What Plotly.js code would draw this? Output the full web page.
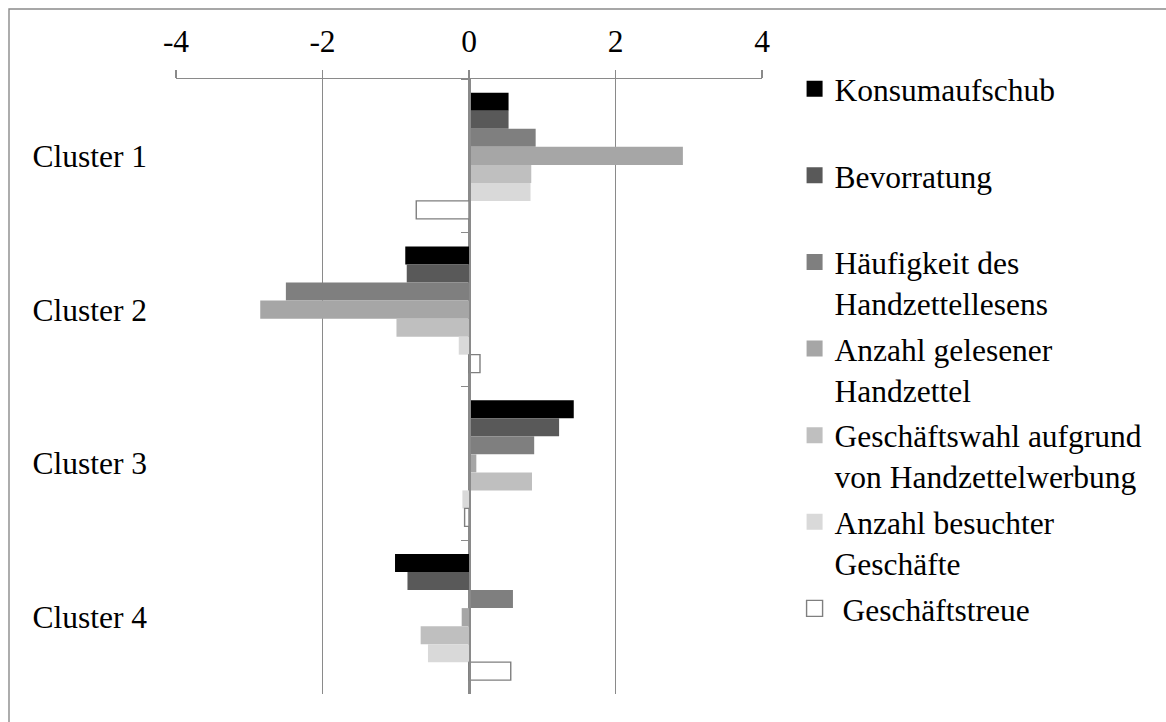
<!DOCTYPE html>
<html>
<head>
<meta charset="utf-8">
<script src="https://cdn.plot.ly/plotly-3.0.1.min.js"></script>
<style>
  html, body { margin: 0; padding: 0; background: #ffffff; }
  #chart { width: 1166px; height: 722px; }
</style>
</head>
<body>
<div id="chart"></div>
<script>
// ---- data ----
var clusters = ['Cluster 1', 'Cluster 2', 'Cluster 3', 'Cluster 4'];
var seriesNames = [
  'Konsumaufschub',
  'Bevorratung',
  'Häufigkeit des<br>Handzettellesens',
  'Anzahl gelesener<br>Handzettel',
  'Geschäftswahl aufgrund<br>von Handzettelwerbung',
  'Anzahl besuchter<br>Geschäfte',
  '\u00a0Geschäftstreue'
];
var konsumaufschub = [0.54, -0.87, 1.43, -1.01];
var bevorratung    = [0.54, -0.85, 1.23, -0.84];
var haeufigkeit    = [0.91, -2.50, 0.89, 0.60];
var anzahlGelesen  = [2.92, -2.85, 0.10, -0.10];
var geschaeftswahl = [0.85, -0.99, 0.86, -0.66];
var anzahlBesucht  = [0.84, -0.14, -0.09, -0.56];
var geschaeftstreue = [-0.72, 0.15, -0.06, 0.57];
var xTickVals = [-4, -2, 0, 2, 4];
var xTickText = ['-4', '-2', '0', '2', '4'];

// ---- styles ----
var fills = ['#000000', '#595959', '#7f7f7f', '#a6a6a6', '#bfbfbf', '#d9d9d9', '#ffffff'];
var lineColors = ['#000000', '#595959', '#7f7f7f', '#a6a6a6', '#bfbfbf', '#d9d9d9', '#7f7f7f'];
var lineWidths = [0, 0, 0, 0, 0, 0, 1.4];
var values = [konsumaufschub, bevorratung, haeufigkeit, anzahlGelesen, geschaeftswahl, anzahlBesucht, geschaeftstreue];

var FONT = "'Liberation Serif', 'Times New Roman', serif";
var FS = 31.5;
var GRID = '#8a8a8a';
var catRange = [clusters.length - 0.5, -0.5];

var traces = [];
values.forEach(function (v, i) {
  traces.push({
    type: 'bar',
    orientation: 'h',
    name: seriesNames[i],
    x: v,
    y: clusters,
    marker: { color: fills[i], line: { color: lineColors[i], width: lineWidths[i] } },
    showlegend: false,
    hoverinfo: 'skip'
  });
});
// legend entries (larger square symbols)
values.forEach(function (v, i) {
  var label = seriesNames[i];
  if (label.indexOf('<br>') < 0 && i < values.length - 1) label = label + '<br>\u00a0';
  traces.push({
    type: 'scatter',
    mode: 'markers',
    name: label,
    x: [null],
    y: [null],
    marker: { symbol: 'square', size: 16, color: fills[i],
              line: { color: i === 6 ? '#7f7f7f' : fills[i], width: i === 6 ? 1.4 : 0 } },
    legendgroup: 'g' + i,
    showlegend: true,
    hoverinfo: 'skip'
  });
});
// category axis drawn at x = 0 (boundary ticks)
traces.push({
  type: 'scatter', mode: 'markers', x: [0, 0, 0, 0], y: clusters, yaxis: 'y2',
  marker: { opacity: 0 }, showlegend: false, hoverinfo: 'skip'
});

var layout = {
  width: 1166,
  height: 722,
  margin: { l: 176, r: 404, t: 79, b: 28 },
  paper_bgcolor: '#ffffff',
  plot_bgcolor: 'rgba(0,0,0,0)',
  font: { family: FONT, size: FS, color: '#000000' },
  barmode: 'group',
  bargap: 0.18,
  bargroupgap: 0,
  hovermode: false,
  showlegend: true,
  xaxis: {
    side: 'top',
    range: [-4, 4],
    tickmode: 'array',
    tickvals: xTickVals,
    ticktext: xTickText,
    ticks: 'outside',
    ticklen: 8,
    tickwidth: 1.4,
    tickcolor: GRID,
    showline: true,
    linecolor: GRID,
    linewidth: 1.4,
    showgrid: true,
    gridcolor: GRID,
    gridwidth: 1.4,
    zeroline: false,
    ticklabelstandoff: 5,
    tickfont: { family: FONT, size: FS, color: '#000000' },
    fixedrange: true
  },
  yaxis: {
    type: 'category',
    categoryorder: 'array',
    categoryarray: clusters,
    autorange: false,
    range: catRange,
    showline: false,
    showgrid: false,
    zeroline: false,
    ticks: '',
    ticklabelstandoff: 28,
    tickfont: { family: FONT, size: FS, color: '#000000' },
    fixedrange: true
  },
  yaxis2: {
    type: 'category',
    categoryorder: 'array',
    categoryarray: clusters,
    autorange: false,
    range: catRange,
    overlaying: 'y',
    anchor: 'free',
    position: 0.5,
    side: 'left',
    showline: true,
    linecolor: GRID,
    linewidth: 1.6,
    ticks: 'outside',
    tickson: 'boundaries',
    ticklen: 8,
    tickwidth: 1.4,
    tickcolor: GRID,
    showticklabels: false,
    showgrid: false,
    zeroline: false,
    fixedrange: true
  },
  legend: {
    x: 1.0556,
    xanchor: 'left',
    y: 1.028,
    yanchor: 'top',
    valign: 'top',
    tracegroupgap: 1.7,
    maxheight: 700,
    bgcolor: 'rgba(0,0,0,0)',
    borderwidth: 0,
    font: { family: FONT, size: FS, color: '#000000' }
  },
  shapes: [{
    type: 'rect', xref: 'paper', yref: 'paper',
    x0: (9 - 176) / 586, x1: (1175 - 176) / 586,
    y0: (694 - 730) / 615, y1: (694 - 9) / 615,
    line: { color: GRID, width: 1.4 }, fillcolor: 'rgba(0,0,0,0)', layer: 'below'
  }]
};

Plotly.newPlot('chart', traces, layout, { displayModeBar: false, staticPlot: true });
</script>
</body>
</html>
